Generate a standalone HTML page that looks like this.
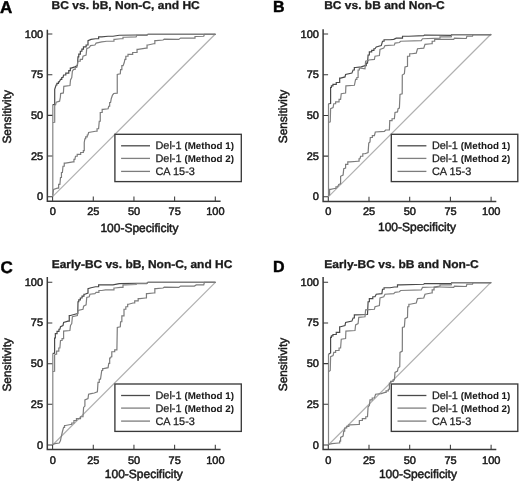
<!DOCTYPE html>
<html lang="en"><head><meta charset="utf-8"><title>ROC curves</title>
<style>
html,body{margin:0;padding:0;background:#fff}
svg{display:block;filter:grayscale(1) blur(0.35px)}
text{font-family:"Liberation Sans",sans-serif;fill:#1a1a1a;stroke:#1a1a1a;stroke-width:0.5px;text-rendering:geometricPrecision}
.b{font-weight:bold;stroke-width:0.3px}
.pl{fill:#000;stroke:#000;stroke-width:0.45px}
.t{font-size:11px}
.lg{font-size:10.9px;stroke-width:0.25px}
.lm{font-size:9.8px;font-weight:bold;stroke-width:0.05px}
.ax{stroke:#3a3a3a;fill:none}
.c{fill:none;stroke-width:1.2;stroke-linejoin:miter}
</style></head>
<body>
<svg width="520" height="481" viewBox="0 0 520 481">
<rect width="520" height="481" fill="#ffffff"/>
<g><!-- panel A -->
<text class="b pl" x="0.1" y="12.9" font-size="17">A</text>
<text class="b" x="51.6" y="8.8" font-size="11.3" textLength="148.2" lengthAdjust="spacingAndGlyphs">BC vs. bB, Non-C, and HC</text>
<path class="c" stroke="#b0b0b0" stroke-width="1" d="M52.6,196.7 L215.30,34.00"/>
<path class="c" stroke="#858585" stroke-width="1" d="M52.80,196.30 L52.80,104.60"/>
<path class="c" stroke="#4a4a4a" stroke-width="1.3" d="M52.80,104.60 L54.70,104.40 L54.70,89.40 L56.10,85.00 L56.89,85.00 L56.89,83.45 L58.46,83.45 L58.46,81.90 L59.25,81.90 L60.50,79.40 L61.75,79.40 L61.75,77.50 L63.00,77.50 L63.60,75.00 L65.80,75.00 L65.80,73.10 L68.00,73.10 L68.78,73.10 L68.78,70.60 L70.33,70.60 L70.33,68.10 L71.10,68.10 L74.90,66.90 L77.40,65.60 L78.00,56.90 L78.78,56.90 L78.78,54.08 L80.33,54.08 L80.33,51.25 L81.10,51.25 L81.89,51.25 L81.89,49.08 L83.46,49.08 L83.46,46.90 L84.25,46.90 L86.12,46.90 L86.12,45.00 L88.00,45.00 L88.00,40.60 L91.10,39.40 L95.50,38.75 L98.62,38.75 L98.62,36.90 L101.75,36.90 L108.00,36.25 L113.00,36.25 L119.25,35.25 L136.75,35.00 L146.75,35.00 L148.00,34.40 L215.50,34.40"/>
<path class="c" stroke="#808080" d="M52.80,122.50 L54.70,122.30 L54.70,105.20 L55.60,104.80 L56.20,102.20 L59.60,101.20 L60.40,97.00 L60.60,93.60 L63.40,92.90 L63.80,86.30 L70.00,85.50 L70.50,80.00 L71.75,77.50 L72.40,71.25 L73.60,69.40 L75.17,69.40 L75.17,67.50 L76.75,67.50 L78.00,61.25 L80.20,61.25 L80.20,59.40 L82.40,59.40 L83.00,56.25 L86.10,55.00 L86.75,48.75 L89.25,47.50 L90.50,45.60 L94.90,45.00 L96.10,43.10 L101.75,41.90 L106.75,41.25 L113.00,41.25 L113.95,41.25 L113.95,39.40 L114.90,39.40 L120.50,38.75 L123.00,38.75 L123.00,37.25 L125.50,37.25 L136.10,36.90 L136.75,35.40 L146.75,35.40 L148.00,34.40 L215.50,34.40"/>
<path class="c" stroke="#7c7c7c" d="M52.80,195.00 L53.60,189.40 L57.40,188.10 L58.65,188.10 L58.65,184.40 L59.90,184.40 L60.50,177.50 L61.45,177.50 L61.45,172.50 L62.40,172.50 L63.00,166.25 L64.25,166.25 L64.25,163.10 L65.50,163.10 L73.00,161.90 L73.95,161.90 L73.95,159.40 L74.90,159.40 L75.50,156.25 L77.22,156.25 L77.22,154.38 L80.67,154.38 L80.67,152.50 L82.40,152.50 L83.33,152.50 L83.33,150.60 L84.25,150.60 L84.25,142.50 L84.90,138.75 L85.68,138.75 L85.68,136.88 L87.23,136.88 L87.23,135.00 L88.00,135.00 L88.60,132.50 L95.50,131.25 L97.05,131.25 L97.05,128.75 L98.60,128.75 L99.25,121.25 L100.25,121.25 L100.25,112.50 L101.25,112.50 L102.17,112.50 L102.17,109.40 L103.10,109.40 L108.10,108.75 L108.75,106.25 L109.67,106.25 L109.67,102.50 L110.60,102.50 L111.25,98.75 L112.50,95.00 L113.75,93.50 L117.25,93.10 L117.25,74.40 L120.30,73.75 L120.60,69.70 L121.85,69.70 L121.85,65.60 L123.10,65.60 L124.25,62.50 L124.90,59.40 L125.83,59.40 L125.83,56.25 L126.75,56.25 L128.00,56.25 L128.00,54.40 L129.25,54.40 L132.68,54.40 L132.68,52.50 L136.10,52.50 L137.05,52.50 L137.05,49.40 L138.00,49.40 L146.10,48.10 L147.05,48.10 L147.05,45.00 L148.00,45.00 L153.60,43.75 L154.85,43.75 L154.85,40.60 L156.10,40.60 L163.00,40.00 L164.25,39.20 L178.75,39.40 L180.60,38.10 L193.75,38.10 L195.00,38.10 L195.00,36.50 L196.25,36.50 L203.75,36.25 L204.40,34.40 L215.50,34.40"/>
<path class="ax" stroke-width="1.5" d="M47.35,29.8 V201.2 H220.6"/>
<path class="ax" stroke-width="1.05" d="M47.35,196.70 h5 M52.60,201.2 v-4.6 M47.35,156.02 h5 M93.28,201.2 v-4.6 M47.35,115.35 h5 M133.95,201.2 v-4.6 M47.35,74.67 h5 M174.62,201.2 v-4.6 M47.35,34.00 h5 M215.30,201.2 v-4.6"/>
<text class="t" text-anchor="end" x="43.15" y="200.20">0</text>
<text class="t" text-anchor="middle" x="52.70" y="215.10">0</text>
<text class="t" text-anchor="end" x="43.15" y="159.52">25</text>
<text class="t" text-anchor="middle" x="93.38" y="215.10">25</text>
<text class="t" text-anchor="end" x="43.15" y="118.85">50</text>
<text class="t" text-anchor="middle" x="134.05" y="215.10">50</text>
<text class="t" text-anchor="end" x="43.15" y="78.17">75</text>
<text class="t" text-anchor="middle" x="174.72" y="215.10">75</text>
<text class="t" text-anchor="end" x="43.15" y="37.50">100</text>
<text class="t" text-anchor="middle" x="215.40" y="215.10">100</text>
<text font-size="11.9" transform="translate(11.2,143.6) rotate(-90)">Sensitivity</text>
<text font-size="12" x="100.4" y="231.5">100-Specificity</text>
<rect x="114.9" y="134.3" width="126.4" height="47.3" fill="#fff" stroke="#3a3a3a" stroke-width="1.35"/>
<path d="M121.10,145.80 h28.9" stroke="#4a4a4a" stroke-width="1.3" fill="none"/>
<text class="lg" x="155.50" y="149.35">Del-1</text>
<text class="lm" x="184.40" y="148.90">(Method 1)</text>
<path d="M121.10,158.40 h28.9" stroke="#808080" stroke-width="1.3" fill="none"/>
<text class="lg" x="155.50" y="162.40">Del-1</text>
<text class="lm" x="184.40" y="161.95">(Method 2)</text>
<path d="M121.10,171.40 h28.9" stroke="#7c7c7c" stroke-width="1.3" fill="none"/>
<text class="lg" x="155.50" y="175.40">CA 15-3</text>
</g>
<g><!-- panel B -->
<text class="b pl" x="273.0" y="12.3" font-size="16">B</text>
<text class="b" x="324.2" y="8.8" font-size="11.3" textLength="120.6" lengthAdjust="spacingAndGlyphs">BC vs. bB and Non-C</text>
<path class="c" stroke="#b0b0b0" stroke-width="1" d="M328.3,196.8 L491.10,34.00"/>
<path class="c" stroke="#858585" stroke-width="1" d="M328.50,196.30 L328.50,103.75"/>
<path class="c" stroke="#4a4a4a" stroke-width="1.3" d="M328.50,103.75 L330.60,103.50 L330.60,87.50 L331.39,87.50 L331.39,85.95 L332.96,85.95 L332.96,84.40 L333.75,84.40 L336.25,84.40 L336.25,82.50 L338.75,82.50 L339.68,82.50 L339.68,78.10 L340.60,78.10 L345.00,76.90 L345.60,74.40 L351.90,73.10 L353.10,70.00 L354.35,70.00 L354.35,67.50 L355.60,67.50 L361.25,66.90 L365.00,65.60 L366.25,65.60 L366.25,63.10 L367.50,63.10 L368.10,55.00 L369.35,55.00 L369.35,51.90 L370.60,51.90 L371.70,51.90 L371.70,50.33 L373.90,50.33 L373.90,48.75 L375.00,48.75 L376.25,46.90 L381.25,45.60 L382.50,41.25 L384.05,41.25 L384.05,39.75 L385.60,39.75 L390.00,39.75 L393.75,39.40 L396.25,38.10 L402.50,38.10 L402.50,36.25 L408.75,36.25 L423.75,35.60 L424.40,35.00 L451.25,35.40 L451.90,34.55 L491.20,34.55"/>
<path class="c" stroke="#808080" d="M328.50,122.50 L330.25,121.90 L330.60,108.75 L333.10,107.50 L333.75,103.75 L335.62,103.75 L335.62,101.90 L337.50,101.90 L339.05,101.90 L339.05,99.40 L340.60,99.40 L341.25,93.75 L345.60,93.10 L345.90,85.80 L354.40,85.30 L355.60,79.40 L356.85,79.40 L356.85,77.50 L358.10,77.50 L358.10,70.00 L359.35,70.00 L359.35,68.10 L360.60,68.10 L365.00,68.75 L365.60,61.25 L368.10,60.60 L368.75,60.00 L374.40,59.40 L375.00,56.25 L379.40,55.60 L380.00,49.40 L383.75,48.10 L385.00,45.60 L394.40,45.00 L395.00,43.10 L399.40,42.50 L400.60,41.25 L421.25,40.60 L422.50,38.75 L440.00,38.10 L440.00,36.80 L451.25,36.80 L451.90,34.55 L491.20,34.55"/>
<path class="c" stroke="#7c7c7c" d="M328.50,195.00 L329.55,195.00 L329.55,189.40 L330.60,189.40 L334.40,188.50 L335.95,188.50 L335.95,186.90 L337.50,186.90 L338.75,184.40 L340.60,183.75 L340.60,176.25 L343.10,175.00 L343.75,168.75 L345.60,168.10 L345.60,164.40 L347.80,164.40 L347.80,161.90 L350.00,161.90 L358.10,161.25 L359.05,161.25 L359.05,158.75 L360.00,158.75 L360.60,156.25 L362.80,156.25 L362.80,153.75 L365.00,153.75 L368.10,152.50 L368.75,143.10 L370.00,141.90 L370.30,137.50 L372.35,137.50 L372.35,135.60 L374.40,135.60 L375.30,132.00 L384.40,131.40 L385.60,130.00 L389.40,130.00 L389.75,120.60 L392.07,120.60 L392.07,118.75 L394.40,118.75 L395.00,112.50 L397.50,111.90 L398.10,108.75 L399.40,108.10 L400.00,94.40 L402.20,93.75 L402.30,75.00 L404.40,73.75 L405.00,66.90 L407.50,66.25 L407.50,56.25 L409.70,56.25 L409.70,53.75 L411.90,53.75 L416.25,53.10 L417.50,48.75 L423.75,48.10 L425.00,44.40 L431.25,43.75 L432.18,43.75 L432.18,41.25 L433.10,41.25 L434.68,41.25 L434.68,39.40 L436.25,39.40 L440.00,39.40 L453.75,39.40 L454.40,38.10 L466.25,38.50 L466.90,36.25 L472.50,36.25 L473.00,34.55 L491.20,34.55"/>
<path class="ax" stroke-width="1.5" d="M323.1,29.2 V201.4 H496.3"/>
<path class="ax" stroke-width="1.05" d="M323.1,196.80 h5 M328.30,201.4 v-4.6 M323.1,156.10 h5 M369.00,201.4 v-4.6 M323.1,115.40 h5 M409.70,201.4 v-4.6 M323.1,74.70 h5 M450.40,201.4 v-4.6 M323.1,34.00 h5 M491.10,201.4 v-4.6"/>
<text class="t" text-anchor="end" x="318.90" y="200.30">0</text>
<text class="t" text-anchor="middle" x="328.40" y="215.30">0</text>
<text class="t" text-anchor="end" x="318.90" y="159.60">25</text>
<text class="t" text-anchor="middle" x="369.10" y="215.30">25</text>
<text class="t" text-anchor="end" x="318.90" y="118.90">50</text>
<text class="t" text-anchor="middle" x="409.80" y="215.30">50</text>
<text class="t" text-anchor="end" x="318.90" y="78.20">75</text>
<text class="t" text-anchor="middle" x="450.50" y="215.30">75</text>
<text class="t" text-anchor="end" x="318.90" y="37.50">100</text>
<text class="t" text-anchor="middle" x="491.20" y="215.30">100</text>
<text font-size="11.9" transform="translate(287.2,143.3) rotate(-90)">Sensitivity</text>
<text font-size="12" x="378.0" y="231.2">100-Specificity</text>
<rect x="391.3" y="134.3" width="126.5" height="47.3" fill="#fff" stroke="#3a3a3a" stroke-width="1.35"/>
<path d="M397.50,145.80 h28.9" stroke="#4a4a4a" stroke-width="1.3" fill="none"/>
<text class="lg" x="431.90" y="149.35">Del-1</text>
<text class="lm" x="460.80" y="148.90">(Method 1)</text>
<path d="M397.50,158.40 h28.9" stroke="#808080" stroke-width="1.3" fill="none"/>
<text class="lg" x="431.90" y="162.40">Del-1</text>
<text class="lm" x="460.80" y="161.95">(Method 2)</text>
<path d="M397.50,171.40 h28.9" stroke="#7c7c7c" stroke-width="1.3" fill="none"/>
<text class="lg" x="431.90" y="175.40">CA 15-3</text>
</g>
<g><!-- panel C -->
<text class="b pl" x="0.5" y="272.9" font-size="17">C</text>
<text class="b" x="51.7" y="268.4" font-size="11.3" textLength="180.6" lengthAdjust="spacingAndGlyphs">Early-BC vs. bB, Non-C, and HC</text>
<path class="c" stroke="#b0b0b0" stroke-width="1" d="M52.6,445.0 L215.30,282.30"/>
<path class="c" stroke="#858585" stroke-width="1" d="M52.80,444.50 L52.80,353.40"/>
<path class="c" stroke="#4a4a4a" stroke-width="1.3" d="M52.80,353.40 L54.60,353.20 L54.60,338.00 L55.35,338.00 L55.35,333.60 L56.10,333.60 L57.05,333.60 L57.05,331.43 L58.95,331.43 L58.95,329.25 L59.90,329.25 L60.50,326.75 L63.00,325.50 L63.60,322.40 L68.00,321.10 L69.25,321.10 L69.25,315.50 L70.50,315.50 L74.90,314.25 L77.75,313.60 L78.00,301.75 L78.78,301.75 L78.78,299.88 L80.33,299.88 L80.33,298.00 L81.10,298.00 L82.05,298.00 L82.05,296.12 L83.95,296.12 L83.95,294.25 L84.90,294.25 L88.00,293.00 L88.00,288.60 L91.10,287.75 L95.50,286.75 L98.62,286.75 L98.62,284.90 L101.75,284.90 L113.00,284.90 L119.25,283.60 L136.75,283.25 L146.75,283.25 L148.00,282.40 L215.50,282.40"/>
<path class="c" stroke="#808080" d="M52.80,371.50 L54.60,371.30 L54.60,355.00 L55.50,354.25 L56.60,354.25 L56.60,351.12 L58.80,351.12 L58.80,348.00 L59.90,348.00 L60.50,340.50 L62.05,340.50 L62.05,338.60 L63.60,338.60 L63.60,331.10 L69.90,330.50 L70.50,325.50 L71.75,323.60 L72.40,316.75 L77.40,315.50 L78.00,310.50 L83.00,309.25 L83.60,306.10 L86.10,304.90 L86.75,297.40 L89.25,296.75 L89.90,294.25 L94.90,293.60 L96.10,292.40 L98.92,292.40 L98.92,290.50 L101.75,290.50 L105.50,289.90 L113.00,289.90 L113.95,289.90 L113.95,288.00 L114.90,288.00 L120.50,287.40 L123.00,287.40 L123.00,284.90 L125.50,284.90 L136.10,284.50 L136.75,283.70 L146.75,283.70 L148.00,282.40 L215.50,282.40"/>
<path class="c" stroke="#7c7c7c" d="M52.80,444.50 L54.90,443.60 L59.25,443.00 L60.50,440.50 L61.10,437.40 L62.40,431.75 L63.60,427.40 L64.55,427.40 L64.55,425.50 L65.50,425.50 L70.50,424.50 L71.75,424.50 L71.75,423.00 L73.00,423.00 L73.95,423.00 L73.95,420.50 L74.90,420.50 L76.45,420.50 L76.45,418.60 L78.00,418.60 L80.50,418.60 L80.50,416.75 L83.00,416.75 L83.60,407.40 L84.90,406.10 L84.90,399.90 L88.00,398.60 L88.60,394.25 L91.10,393.60 L94.25,393.00 L97.40,391.75 L98.00,382.40 L99.25,382.40 L99.25,379.25 L100.50,379.25 L101.75,370.50 L102.67,370.50 L102.67,368.60 L103.60,368.60 L108.10,367.70 L108.75,363.30 L109.67,363.30 L109.67,358.00 L110.60,358.00 L111.10,356.75 L111.80,356.75 L111.80,351.75 L112.50,351.75 L114.70,351.75 L114.70,349.90 L116.90,349.90 L117.30,327.40 L120.30,326.75 L120.60,321.75 L121.85,321.75 L121.85,315.90 L123.10,315.90 L124.00,315.90 L124.00,309.25 L124.90,309.25 L125.83,309.25 L125.83,306.75 L127.67,306.75 L127.67,304.25 L128.60,304.25 L133.00,303.00 L134.72,303.00 L134.72,300.80 L138.18,300.80 L138.18,298.60 L139.90,298.60 L145.50,298.00 L146.45,298.00 L146.45,293.60 L147.40,293.60 L153.60,293.00 L154.85,293.00 L154.85,288.60 L156.10,288.60 L163.00,288.00 L164.25,287.20 L178.75,287.40 L180.60,286.10 L194.40,286.10 L196.25,284.90 L203.75,284.90 L204.40,282.40 L215.50,282.40"/>
<path class="ax" stroke-width="1.5" d="M47.3,277.0 V449.4 H220.6"/>
<path class="ax" stroke-width="1.05" d="M47.3,445.00 h5 M52.60,449.4 v-4.6 M47.3,404.32 h5 M93.28,449.4 v-4.6 M47.3,363.65 h5 M133.95,449.4 v-4.6 M47.3,322.98 h5 M174.62,449.4 v-4.6 M47.3,282.30 h5 M215.30,449.4 v-4.6"/>
<text class="t" text-anchor="end" x="43.10" y="448.50">0</text>
<text class="t" text-anchor="middle" x="52.70" y="463.70">0</text>
<text class="t" text-anchor="end" x="43.10" y="407.82">25</text>
<text class="t" text-anchor="middle" x="93.38" y="463.70">25</text>
<text class="t" text-anchor="end" x="43.10" y="367.15">50</text>
<text class="t" text-anchor="middle" x="134.05" y="463.70">50</text>
<text class="t" text-anchor="end" x="43.10" y="326.48">75</text>
<text class="t" text-anchor="middle" x="174.72" y="463.70">75</text>
<text class="t" text-anchor="end" x="43.10" y="285.80">100</text>
<text class="t" text-anchor="middle" x="215.40" y="463.70">100</text>
<text font-size="11.9" transform="translate(11.2,391.6) rotate(-90)">Sensitivity</text>
<text font-size="12" x="104.8" y="477.7">100-Specificity</text>
<rect x="114.9" y="384.0" width="126.4" height="47.4" fill="#fff" stroke="#3a3a3a" stroke-width="1.35"/>
<path d="M121.10,395.50 h28.9" stroke="#4a4a4a" stroke-width="1.3" fill="none"/>
<text class="lg" x="155.50" y="399.05">Del-1</text>
<text class="lm" x="184.40" y="398.60">(Method 1)</text>
<path d="M121.10,408.10 h28.9" stroke="#808080" stroke-width="1.3" fill="none"/>
<text class="lg" x="155.50" y="412.10">Del-1</text>
<text class="lm" x="184.40" y="411.65">(Method 2)</text>
<path d="M121.10,421.10 h28.9" stroke="#7c7c7c" stroke-width="1.3" fill="none"/>
<text class="lg" x="155.50" y="425.10">CA 15-3</text>
</g>
<g><!-- panel D -->
<text class="b pl" x="273.0" y="271.8" font-size="16">D</text>
<text class="b" x="324.2" y="268.4" font-size="11.3" textLength="154.4" lengthAdjust="spacingAndGlyphs">Early-BC vs. bB and Non-C</text>
<path class="c" stroke="#b0b0b0" stroke-width="1" d="M328.3,445.0 L491.10,282.20"/>
<path class="c" stroke="#858585" stroke-width="1" d="M328.50,444.50 L328.50,354.25"/>
<path class="c" stroke="#4a4a4a" stroke-width="1.3" d="M328.50,354.25 L330.60,353.00 L330.60,337.40 L331.39,337.40 L331.39,335.95 L332.96,335.95 L332.96,334.50 L333.75,334.50 L336.25,334.50 L336.25,332.40 L338.75,332.40 L339.68,332.40 L339.68,326.75 L340.60,326.75 L345.00,325.50 L345.60,322.40 L351.90,321.10 L353.10,318.00 L354.35,318.00 L354.35,314.90 L355.60,314.90 L367.50,314.50 L368.10,301.75 L369.35,301.75 L369.35,298.60 L370.60,298.60 L372.80,298.60 L372.80,296.75 L375.00,296.75 L376.25,294.25 L381.90,293.60 L382.50,289.25 L384.05,289.25 L384.05,287.75 L385.60,287.75 L390.00,287.75 L394.40,287.00 L397.50,287.00 L397.50,284.90 L400.60,284.90 L423.75,284.25 L424.40,283.60 L451.25,283.60 L451.90,282.70 L491.20,282.70"/>
<path class="c" stroke="#808080" d="M328.50,371.75 L330.25,370.50 L330.60,356.75 L333.10,355.50 L333.75,352.40 L335.62,352.40 L335.62,350.50 L337.50,350.50 L339.05,350.50 L339.05,348.00 L340.60,348.00 L341.25,339.25 L345.60,338.60 L345.90,331.10 L355.00,330.50 L355.60,324.90 L358.10,323.60 L358.75,317.40 L365.00,316.75 L365.60,309.90 L374.40,309.25 L375.00,306.75 L379.40,305.50 L380.00,298.00 L383.75,296.75 L385.00,294.25 L393.75,293.60 L395.00,292.40 L399.40,291.75 L400.60,290.50 L421.25,289.90 L422.50,287.40 L433.75,287.00 L440.00,286.10 L440.00,284.90 L451.25,284.90 L451.90,282.70 L491.20,282.70"/>
<path class="c" stroke="#7c7c7c" d="M328.50,444.50 L331.90,443.60 L338.75,443.00 L339.68,443.00 L339.68,441.10 L340.60,441.10 L340.60,437.40 L343.10,436.10 L343.75,431.10 L344.68,431.10 L344.68,428.00 L345.60,428.00 L346.70,428.00 L346.70,426.45 L348.90,426.45 L348.90,424.90 L350.00,424.90 L358.10,424.50 L359.35,424.50 L359.35,420.50 L360.60,420.50 L362.33,420.50 L362.33,418.62 L365.78,418.62 L365.78,416.75 L367.50,416.75 L368.10,406.75 L369.40,405.50 L370.00,399.90 L372.20,399.90 L372.20,398.00 L374.40,398.00 L375.60,394.25 L381.25,393.60 L385.00,392.40 L386.10,392.40 L386.10,390.82 L388.30,390.82 L388.30,389.25 L389.40,389.25 L389.40,383.00 L390.65,383.00 L390.65,381.45 L393.15,381.45 L393.15,379.90 L394.40,379.90 L395.00,372.40 L397.50,371.10 L398.10,368.00 L399.75,366.75 L400.00,352.40 L402.30,351.10 L402.40,327.40 L404.40,326.75 L405.00,318.60 L407.50,317.40 L407.75,306.75 L408.88,306.75 L408.88,304.25 L410.00,304.25 L416.25,303.00 L417.50,298.60 L423.75,298.00 L425.00,294.25 L431.25,293.00 L432.18,293.00 L432.18,289.90 L433.10,289.90 L434.05,289.90 L434.05,287.40 L435.00,287.40 L439.40,287.00 L440.00,287.00 L453.75,287.40 L454.40,286.10 L466.25,286.50 L466.90,284.25 L472.50,284.25 L473.00,282.70 L491.20,282.70"/>
<path class="ax" stroke-width="1.5" d="M323.1,277.0 V449.4 H496.3"/>
<path class="ax" stroke-width="1.05" d="M323.1,445.00 h5 M328.30,449.4 v-4.6 M323.1,404.30 h5 M369.00,449.4 v-4.6 M323.1,363.60 h5 M409.70,449.4 v-4.6 M323.1,322.90 h5 M450.40,449.4 v-4.6 M323.1,282.20 h5 M491.10,449.4 v-4.6"/>
<text class="t" text-anchor="end" x="318.90" y="448.50">0</text>
<text class="t" text-anchor="middle" x="328.40" y="463.70">0</text>
<text class="t" text-anchor="end" x="318.90" y="407.80">25</text>
<text class="t" text-anchor="middle" x="369.10" y="463.70">25</text>
<text class="t" text-anchor="end" x="318.90" y="367.10">50</text>
<text class="t" text-anchor="middle" x="409.80" y="463.70">50</text>
<text class="t" text-anchor="end" x="318.90" y="326.40">75</text>
<text class="t" text-anchor="middle" x="450.50" y="463.70">75</text>
<text class="t" text-anchor="end" x="318.90" y="285.70">100</text>
<text class="t" text-anchor="middle" x="491.20" y="463.70">100</text>
<text font-size="11.9" transform="translate(287.2,391.3) rotate(-90)">Sensitivity</text>
<text font-size="12" x="378.9" y="477.7">100-Specificity</text>
<rect x="391.3" y="384.0" width="126.5" height="47.4" fill="#fff" stroke="#3a3a3a" stroke-width="1.35"/>
<path d="M397.50,395.50 h28.9" stroke="#4a4a4a" stroke-width="1.3" fill="none"/>
<text class="lg" x="431.90" y="399.05">Del-1</text>
<text class="lm" x="460.80" y="398.60">(Method 1)</text>
<path d="M397.50,408.10 h28.9" stroke="#808080" stroke-width="1.3" fill="none"/>
<text class="lg" x="431.90" y="412.10">Del-1</text>
<text class="lm" x="460.80" y="411.65">(Method 2)</text>
<path d="M397.50,421.10 h28.9" stroke="#7c7c7c" stroke-width="1.3" fill="none"/>
<text class="lg" x="431.90" y="425.10">CA 15-3</text>
</g>
</svg>
</body></html>
